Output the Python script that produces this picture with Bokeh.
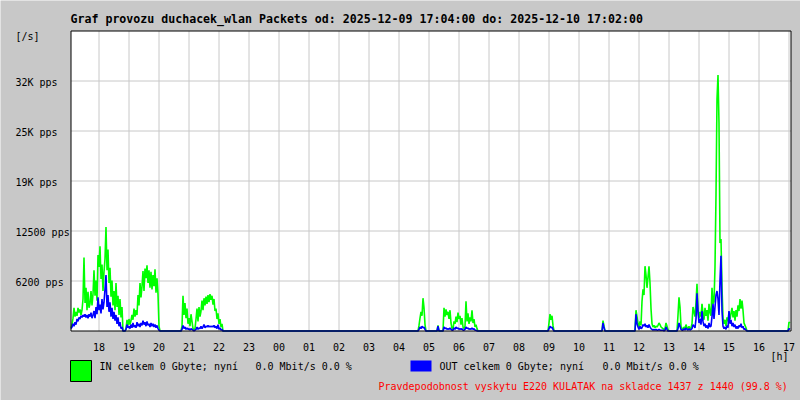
import numpy as np
from bokeh.plotting import figure
from bokeh.models import Range1d
from bokeh.core.properties import value
from bokeh.embed import file_html
from bokeh.resources import INLINE

# ---------------- texts / ticks ----------------
title_text = "Graf provozu duchacek_wlan Packets od: 2025-12-09 17:04:00 do: 2025-12-10 17:02:00"
hour_ticks = list(range(1, 25))  # hours after 17:00
hour_labels = ["18", "19", "20", "21", "22", "23", "00", "01", "02", "03", "04", "05",
               "06", "07", "08", "09", "10", "11", "12", "13", "14", "15", "16", "17"]
y_ticks = [6250, 12500, 18750, 25000, 31250]
y_tick_labels = ["6200 pps", "12500 pps", "19K pps", "25K pps", "32K pps"]
y_max = 37500
unit_label = "[/s]"
hour_unit = "[h]"
in_legend = ["IN celkem 0 Gbyte; nyní", "0.0 Mbit/s 0.0 %"]
out_legend = ["OUT celkem 0 Gbyte; nyní", "0.0 Mbit/s 0.0 %"]
note_text = "Pravdepodobnost vyskytu E220 KULATAK na skladce 1437 z 1440 (99.8 %)"

# ---------------- data: 2-minute samples (pps) ----------------
first_minute = 4      # 17:04
step_minutes = 2
n_samples = 720

seg_start = ["17:04", "18:52", "20:44", "04:38", "05:16", "05:28",
             "08:58", "10:46", "11:52", "13:16", "16:58"]

in_a = [400, 800, 1600, 2900, 1800, 2400, 1900, 2900, 2300, 2700,
        2000, 2600, 4000, 9200, 3500, 5400, 2600, 4900, 2900, 3400,
        5000, 3200, 4600, 7600, 4400, 6300, 3800, 9500, 8000, 10600,
        6500, 8300, 5000, 7400, 9000, 13000, 7600, 10200, 6000, 7900,
        4300, 6300, 3200, 5000, 2600, 6000, 3000, 4400, 2000, 4000,
        1700, 3000, 0]
out_a = [300, 500, 900, 600, 1100, 800, 1500, 1200, 1700, 1500,
         1900, 1700, 2000, 1800, 2100, 1700, 2000, 1600, 2100, 1800,
         2300, 1600, 2000, 2500, 1600, 3000, 2100, 4200, 2600, 3300,
         2200, 4000, 2700, 3600, 5200, 7000, 3000, 4500, 2400, 3600,
         1800, 2900, 1500, 2400, 1300, 2000, 900, 1700, 600, 1100,
         300, 500, 0]

in_b = [0, 300, 1400, 700, 1500, 800, 1300, 2000, 1400, 2800,
        1800, 2600, 2000, 4500, 3200, 6000, 4200, 5600, 7500, 5000,
        7800, 6600, 8200, 6000, 7600, 5400, 7400, 5200, 7000, 5600,
        7700, 4800, 6600, 4600, 600, 0]
out_b = [0, 200, 800, 400, 600, 300, 800, 400, 1000, 500,
         700, 400, 1100, 600, 900, 500, 1000, 700, 1300, 800,
         1100, 600, 1200, 700, 900, 500, 1000, 600, 900, 500,
         800, 400, 700, 300, 100, 0]

in_c = [0, 600, 4400, 2000, 3500, 1600, 2800, 900, 1600, 600,
        2100, 1200, 300, 200, 300, 1500, 2800, 1200, 3000, 1800,
        2500, 3800, 2600, 4100, 3200, 4300, 3400, 4500, 3600, 4600,
        3900, 4400, 3300, 4000, 2500, 2800, 1500, 2200, 900, 1500,
        500, 900, 0]
out_c = [0, 200, 700, 300, 500, 200, 400, 200, 300, 100,
         300, 200, 100, 0, 100, 200, 500, 200, 400, 300,
         600, 300, 500, 800, 400, 600, 500, 700, 500, 600,
         500, 600, 500, 700, 400, 600, 300, 800, 200, 400,
         100, 200, 0]

in_d = [0, 700, 1600, 2400, 1900, 4100, 2900, 800, 0]
out_d = [0, 200, 500, 300, 600, 400, 500, 200, 0]

in_e = [0, 700, 0]
out_e = [0, 600, 0]

in_f = [0, 2900, 1800, 2700, 2000, 2400, 1500, 2600, 1000, 300,
        200, 1200, 900, 1800, 1100, 2300, 1500, 1900, 800, 1600,
        500, 300, 600, 3700, 1200, 2200, 900, 1700, 1200, 2600,
        1000, 1500, 500, 800, 300, 0]
out_f = [0, 500, 300, 400, 200, 300, 200, 400, 200, 100,
         100, 400, 200, 500, 300, 400, 200, 300, 200, 300,
         100, 100, 200, 500, 300, 400, 200, 300, 200, 400,
         200, 300, 100, 100, 0, 0]

in_g = [0, 1000, 2100, 1400, 1900, 700, 0]
out_g = [0, 300, 600, 400, 500, 200, 0]

in_h = [0, 1300, 600, 0]
out_h = [0, 1000, 400, 0]

in_i = [0, 2600, 1800, 900, 500, 1200, 700, 3700, 5200, 4500,
        8100, 7000, 5400, 6700, 8100, 6000, 2800, 900, 500, 700,
        400, 600, 500, 700, 1000, 800, 500, 400, 300, 200,
        300, 1000, 600, 200, 0]
out_i = [0, 2100, 900, 500, 200, 600, 300, 400, 800, 600,
         900, 500, 700, 400, 800, 500, 300, 200, 100, 200,
         100, 200, 100, 100, 200, 100, 100, 100, 100, 0,
         100, 500, 200, 0, 0]

in_j = [0, 2000, 4200, 3000, 600, 300, 200, 500, 300, 800,
        400, 300, 600, 200, 400, 900, 3000, 2400, 1800, 3600,
        5900, 2700, 1600, 2400, 1800, 3400, 2200, 1400, 2900, 1900,
        2600, 1300, 3400, 2300, 1900, 5400, 3400, 3700, 8000, 17000,
        29000, 32000, 26000, 11000, 11500, 5500, 1600, 900, 1400, 600,
        1700, 1200, 2400, 1500, 2200, 2900, 1700, 2500, 1300, 2600,
        1800, 3200, 2500, 4000, 2800, 3800, 2600, 1000, 700, 400,
        0]
out_j = [0, 300, 1000, 600, 200, 100, 100, 300, 100, 400,
         200, 100, 300, 100, 200, 300, 800, 600, 400, 1500,
         4700, 2400, 1000, 1500, 800, 2500, 1200, 600, 900, 400,
         700, 300, 1000, 500, 600, 1800, 3400, 1500, 3000, 4500,
         5000, 4000, 2000, 6300, 9400, 2500, 600, 300, 500, 200,
         700, 400, 2500, 900, 1400, 600, 1000, 500, 800, 300,
         600, 300, 700, 500, 900, 400, 600, 200, 300, 100,
         0]

in_k = [0, 1100, 1000]
out_k = [0, 300, 200]

in_segments = [in_a, in_b, in_c, in_d, in_e, in_f, in_g, in_h, in_i, in_j, in_k]
out_segments = [out_a, out_b, out_c, out_d, out_e, out_f, out_g, out_h, out_i, out_j, out_k]

# ---------------- assemble series ----------------
in_vals = np.zeros(n_samples)
out_vals = np.zeros(n_samples)
for start, seg_in, seg_out in zip(seg_start, in_segments, out_segments):
    h, m = map(int, start.split(":"))
    minutes = (h * 60 + m - 17 * 60) % 1440
    idx = (minutes - first_minute) // step_minutes
    in_vals[idx:idx + len(seg_in)] = seg_in
    out_vals[idx:idx + len(seg_out)] = seg_out
t_hours = (first_minute + step_minutes * np.arange(n_samples)) / 60.0

# ---------------- layout (pixels of the 800x400 canvas) ----------------
W, H = 800, 400
PLOT_LEFT_PX, PLOT_BOTTOM_PX = 70.5, 330.5
PX_PER_HOUR = 30.0
PX_PER_UNIT = 300.0 / y_max
x_start = first_minute / 60.0
x_end = x_start + 24
TEXT_SHIFT = 4.5   # baseline correction in px


def hx(px):
    return x_start + (px - PLOT_LEFT_PX) / PX_PER_HOUR


def vy(py):
    return (PLOT_BOTTOM_PX - py) / PX_PER_UNIT


def ty(py):
    return vy(py - TEXT_SHIFT)


BG = "#c8c8c8"
GRID = "#c8c8c8"
MONO = "DejaVu Sans Mono"
SMALL = "10px"

p = figure(width=W, height=H, output_backend="svg", toolbar_location=None,
           x_range=Range1d(hx(0), hx(W)), y_range=Range1d(vy(H), vy(0)),
           x_axis_location=None, y_axis_location=None,
           min_border=0, outline_line_color=None)
p.background_fill_color = BG
p.border_fill_color = BG
p.grid.visible = False

# plot area
p.quad(left=[x_start], right=[x_end], bottom=[0], top=[y_max],
       fill_color="white", line_color=None)
# grid
p.segment(x0=hour_ticks, y0=[0] * len(hour_ticks), x1=hour_ticks, y1=[y_max] * len(hour_ticks),
          line_color=GRID, line_width=1)
p.segment(x0=[x_start] * len(y_ticks), y0=y_ticks, x1=[x_end] * len(y_ticks), y1=y_ticks,
          line_color=GRID, line_width=1)

# data
p.line(t_hours, in_vals, line_color="#00ff00", line_width=1.6)
p.line(t_hours, out_vals, line_color="#0000ff", line_width=1.6)

# frame
p.quad(left=[x_start], right=[x_end], bottom=[0], top=[y_max],
       fill_color=None, line_color="black", line_width=1)


def txt(xs, ys, texts, size=SMALL, color="black", bold=False, align="left"):
    p.text(x=xs, y=ys, text=texts, text_font=value(MONO), text_font_size=value(size),
           text_color=color, text_font_style="bold" if bold else "normal",
           text_align=align, text_baseline="alphabetic")


# title and units
txt([hx(70)], [ty(23.3)], [title_text], size="11.6px", bold=True)
txt([hx(15)], [ty(40)], [unit_label])
# y tick labels (just below grid line, left aligned)
txt([hx(15)] * len(y_ticks), [v - (6 - TEXT_SHIFT) / PX_PER_UNIT for v in y_ticks], y_tick_labels)
# x tick labels
txt(hour_ticks, [ty(351)] * len(hour_ticks), hour_labels, align="center")
txt([hx(770)], [ty(360)], [hour_unit])

# legend
p.quad(left=[hx(70)], right=[hx(91)], bottom=[vy(381)], top=[vy(360)],
       fill_color="#00ff00", line_color="black", line_width=1)
p.quad(left=[hx(410)], right=[hx(431)], bottom=[vy(371)], top=[vy(360)],
       fill_color="#0000ff", line_color=None)
txt([hx(99), hx(255)], [ty(370.5)] * 2, in_legend)
txt([hx(439), hx(602)], [ty(370.5)] * 2, out_legend)
txt([hx(378)], [ty(390.5)], [note_text], color="#ff0000")

open("out.html", "w").write(file_html(p, INLINE))
